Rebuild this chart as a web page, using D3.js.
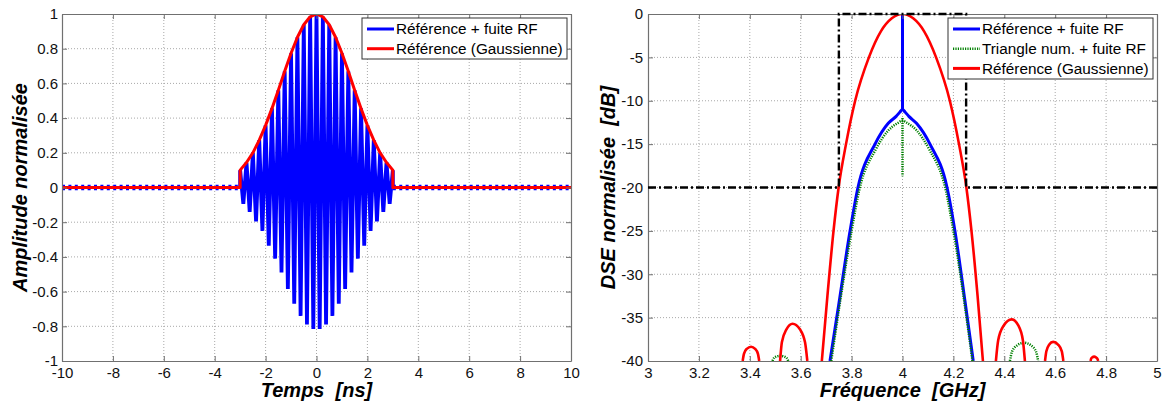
<!DOCTYPE html>
<html><head><meta charset="utf-8">
<script src="https://cdn.jsdelivr.net/npm/d3@7"></script>
<style>
body{margin:0;background:#fff;}
svg{display:block;font-family:"Liberation Sans",Arial,sans-serif;}
</style></head>
<body><svg id="c" width="1164" height="405"></svg>
<script>
// ---------- DATA: left panel (time domain) ----------
const timeTicks = [-10,-8,-6,-4,-2,0,2,4,6,8,10];
const ampTicks = [-1,-0.8,-0.6,-0.4,-0.2,0,0.2,0.4,0.6,0.8,1];
const ampTickLabels = ["-1","-0.8","-0.6","-0.4","-0.2","0","0.2","0.4","0.6","0.8","1"];
// Gaussian envelope (red) and carrier crest times (ns)
const envTime = [-3,-2.75,-2.5,-2.25,-2,-1.75,-1.5,-1.25,-1,-0.75,-0.5,-0.25,0,0.25,0.5,0.75,1,1.25,1.5,1.75,2,2.25,2.5,2.75,3];
const envAmp  = [0.10,0.144,0.20,0.273,0.358,0.456,0.561,0.670,0.774,0.866,0.938,0.984,1.0,0.984,0.938,0.866,0.774,0.670,0.561,0.456,0.358,0.273,0.20,0.144,0.10];
// carrier troughs (blue)
const troughTime = [-2.875,-2.625,-2.375,-2.125,-1.875,-1.625,-1.375,-1.125,-0.875,-0.625,-0.375,-0.125,0.125,0.375,0.625,0.875,1.125,1.375,1.625,1.875,2.125,2.375,2.625,2.875];
const troughAmp  = [-0.094,-0.14,-0.195,-0.25,-0.335,-0.41,-0.49,-0.585,-0.67,-0.74,-0.79,-0.815,-0.815,-0.79,-0.74,-0.67,-0.585,-0.49,-0.41,-0.335,-0.25,-0.195,-0.14,-0.094];
const pulseStart = -3, pulseEnd = 3, tMin = -10, tMax = 10;

// ---------- DATA: right panel (spectrum) ----------
const freqTicks = [3,3.2,3.4,3.6,3.8,4,4.2,4.4,4.6,4.8,5];
const freqTickLabels = ["3","3.2","3.4","3.6","3.8","4","4.2","4.4","4.6","4.8","5"];
const dbTicks = [-40,-35,-30,-25,-20,-15,-10,-5,0];
// Red: reference Gaussian spectrum (null = gap below -40 dB)
const redFreq = [3.372,3.377,3.388,3.405,3.421,3.432,3.437,null,
  3.519,3.526,3.544,3.568,3.597,3.617,3.626,null,
  3.683,3.705,3.729,3.749,3.778,3.814,3.868,3.915,3.958,4.0,4.042,4.085,4.132,4.186,4.222,4.251,4.271,4.295,4.316,null,
  4.367,4.376,4.398,4.429,4.455,4.473,4.481,null,
  4.56,4.565,4.576,4.592,4.612,4.626,4.632,null,
  4.739,4.741,4.746,4.753,4.76,4.766,4.769];
const redDb = [-40,-39.18,-38.6,-38.35,-38.6,-39.18,-40,null,
  -40,-37.85,-36.35,-35.7,-36.35,-37.85,-40,null,
  -40,-32.5,-25,-20,-15,-10,-5,-2,-0.5,0,-0.5,-2,-5,-10,-15,-20,-25,-32.5,-40,null,
  -40,-37.6,-35.9,-35.2,-35.9,-37.6,-40,null,
  -40,-38.9,-38.13,-37.8,-38.13,-38.9,-40,null,
  -40,-39.75,-39.58,-39.5,-39.58,-39.75,-40];
// Blue: reference + RF leakage
const blueFreq = [3.715,3.75,3.794,3.825,3.892,3.944,3.975,3.99,4.0,4.01,4.025,4.055,4.108,4.175,4.206,4.245,4.278];
const blueDb   = [-40,-33.4,-25,-20,-15,-12.6,-11.8,-11.3,-11.0,-11.3,-11.8,-12.6,-15,-20,-25,-33,-40];
const blueLineFreq = 4.0, blueLineDb = [-11, 0];
// Green: numerical triangle + RF leakage
const greenFreq = [3.489,3.494,3.504,3.519,3.535,3.546,3.551,null,
  3.72,3.8,3.83,3.895,3.945,3.98,4.0,4.02,4.055,4.105,4.17,4.2,4.275,null,
  4.422,4.430,4.450,4.477,4.505,4.525,4.533];
const greenDb = [-40,-39.7,-39.49,-39.4,-39.49,-39.7,-40,null,
  -40,-25,-20.3,-15.6,-13.4,-12.6,-12.3,-12.6,-13.4,-15.6,-20.3,-25,-40,null,
  -40,-38.95,-38.2,-37.9,-38.2,-38.95,-40];
const greenLineFreq = 4.0, greenLineDb = [-12, -18.7];
// Black dash-dot spectral mask
const maskFreq = [3,3.75,3.75,4.25,4.25,5];
const maskDb = [-20,-20,0,0,-20,-20];

const legendLeft = ["Référence + fuite RF","Référence (Gaussienne)"];
const legendRight = ["Référence + fuite RF","Triangle num. + fuite RF","Référence (Gaussienne)"];

// ---------- DRAW ----------
const svg = d3.select("#c");
const BLUE="#0000ff", RED="#ff0000", GREEN="#008000";

function panel(id, x, y, xt, xtl, yt, ytl, ypad) {
  const g = svg.append("g");
  const [x0,x1] = x.range(), [y1,y0] = y.range();
  g.append("rect").attr("x",x0).attr("y",y0).attr("width",x1-x0).attr("height",y1-y0).attr("fill","#fff");
  g.append("g").selectAll("line").data(xt.slice(1,-1)).join("line")
    .attr("x1",d=>x(d)).attr("x2",d=>x(d)).attr("y1",y0).attr("y2",y1)
    .attr("stroke","#a8a8a8").attr("stroke-width",1).attr("stroke-dasharray","1,2");
  g.append("g").selectAll("line").data(yt.slice(1,-1)).join("line")
    .attr("y1",d=>y(d)).attr("y2",d=>y(d)).attr("x1",x0).attr("x2",x1)
    .attr("stroke","#a8a8a8").attr("stroke-width",1).attr("stroke-dasharray","1,2");
  svg.append("clipPath").attr("id",id).append("rect").attr("x",x0).attr("y",y0).attr("width",x1-x0).attr("height",y1-y0);
  const plot = svg.append("g").attr("clip-path",`url(#${id})`);
  const axes = () => {
    const fmtX = (d,i)=>xtl[i], fmtY=(d,i)=>ytl[i];
    const ax = svg.append("g").attr("transform",`translate(0,${y1})`)
      .call(d3.axisBottom(x).tickValues(xt).tickFormat(fmtX).tickSizeInner(-5).tickSizeOuter(0).tickPadding(6));
    const ay = svg.append("g").attr("transform",`translate(${x0},0)`)
      .call(d3.axisLeft(y).tickValues(yt).tickFormat(fmtY).tickSizeInner(-5).tickSizeOuter(0).tickPadding(ypad));
    const at = svg.append("g").attr("transform",`translate(0,${y0})`)
      .call(d3.axisTop(x).tickValues(xt).tickFormat("").tickSizeInner(-5).tickSizeOuter(0));
    const ar = svg.append("g").attr("transform",`translate(${x1},0)`)
      .call(d3.axisRight(y).tickValues(yt).tickFormat("").tickSizeInner(-5).tickSizeOuter(0));
    [ax,ay,at,ar].forEach(a=>{
      a.select(".domain").attr("stroke","#707070").attr("stroke-width",1.2);
      a.selectAll(".tick line").attr("stroke","#707070").attr("stroke-width",1);
      a.selectAll("text").attr("font-size",15).attr("fill","#111").attr("font-family","Liberation Sans, Arial, sans-serif");
    });
  };
  return {plot, axes};
}

// Left panel
const xL = d3.scaleLinear([tMin,tMax],[62,571]);
const yL = d3.scaleLinear([-1,1],[361,14]);
const L = panel("clipL", xL, yL, timeTicks, timeTicks.map(String), ampTicks, ampTickLabels, 4);

[[tMin,pulseStart],[pulseEnd,tMax]].forEach(([a,b])=>{
  L.plot.append("line").attr("x1",xL(a)).attr("x2",xL(b)).attr("y1",yL(0)).attr("y2",yL(0))
    .attr("stroke",BLUE).attr("stroke-width",5.5).attr("stroke-dasharray","3,3.4");
});
const bluePts = [];
envTime.forEach((t,i)=>bluePts.push([t,envAmp[i]]));
troughTime.forEach((t,i)=>bluePts.push([t,troughAmp[i]]));
bluePts.sort((a,b)=>a[0]-b[0]);
bluePts.unshift([pulseStart,0]); bluePts.push([pulseEnd,0]);
L.plot.append("path").attr("d",d3.line().x(d=>xL(d[0])).y(d=>yL(d[1]))(bluePts))
  .attr("fill","none").attr("stroke",BLUE).attr("stroke-width",3.8).attr("stroke-linejoin","bevel");
const redPts = [[tMin,0],[pulseStart,0]].concat(envTime.map((t,i)=>[t,envAmp[i]])).concat([[pulseEnd,0],[tMax,0]]);
L.plot.append("path").attr("d",d3.line().x(d=>xL(d[0])).y(d=>yL(d[1]))(redPts))
  .attr("fill","none").attr("stroke",RED).attr("stroke-width",3).attr("stroke-linejoin","round");
L.axes();

// Right panel
const xR = d3.scaleLinear([3,5],[648,1157]);
const yR = d3.scaleLinear([-40,0],[361,14]);
const R = panel("clipR", xR, yR, freqTicks, freqTickLabels, dbTicks, dbTicks.map(String), 5);
const specLine = d3.line().defined(d=>d[1]!==null).x(d=>xR(d[0])).y(d=>yR(d[1])).curve(d3.curveMonotoneX);
const zipS = (f,v)=>f.map((d,i)=>[d,v[i]]);
R.plot.append("path").attr("d",specLine(zipS(blueFreq,blueDb)))
  .attr("fill","none").attr("stroke",BLUE).attr("stroke-width",3);
R.plot.append("line").attr("x1",xR(blueLineFreq)).attr("x2",xR(blueLineFreq))
  .attr("y1",yR(blueLineDb[0])).attr("y2",yR(blueLineDb[1])).attr("stroke",BLUE).attr("stroke-width",3);
R.plot.append("path").attr("d",specLine(zipS(greenFreq,greenDb)))
  .attr("fill","none").attr("stroke",GREEN).attr("stroke-width",2.5).attr("stroke-dasharray","1.2,1.2");
R.plot.append("line").attr("x1",xR(greenLineFreq)).attr("x2",xR(greenLineFreq))
  .attr("y1",yR(greenLineDb[0])).attr("y2",yR(greenLineDb[1])).attr("stroke",GREEN).attr("stroke-width",2.5).attr("stroke-dasharray","1.2,1.2");
R.plot.append("path").attr("d",specLine(zipS(redFreq,redDb)))
  .attr("fill","none").attr("stroke",RED).attr("stroke-width",2.6);
R.axes();
svg.append("path").attr("d",d3.line().x(d=>xR(d[0])).y(d=>yR(d[1]))(zipS(maskFreq,maskDb)))
  .attr("fill","none").attr("stroke","#000").attr("stroke-width",2.4).attr("stroke-dasharray","8,3,2,3");

// Axis titles
function title(txt,x,y,rot){
  svg.append("text").attr("text-anchor","middle").attr("xml:space","preserve")
    .style("white-space","pre").text(txt)
    .attr("transform",`translate(${x},${y})${rot?" rotate(-90)":""}`)
    .attr("font-size",20).attr("font-weight","bold").attr("font-style","italic").attr("fill","#000");
}
title("Temps  [ns]", xL(0), 397, false);
title("Fréquence  [GHz]", xR(4), 397, false);
title("Amplitude normalisée", 27, yL(0), true);
title("DSE normalisée  [dB]", 615, yR(-20), true);

// Legends
function legend(x,y,w,items,styles){
  const h = 20*items.length+1;
  const g = svg.append("g");
  g.append("rect").attr("x",x).attr("y",y).attr("width",w).attr("height",h)
    .attr("fill","#fff").attr("stroke","#333").attr("stroke-width",1);
  items.forEach((txt,i)=>{
    const cy = y+11+i*19.7;
    const l = g.append("line").attr("x1",x+5).attr("x2",x+32).attr("y1",cy).attr("y2",cy);
    Object.entries(styles[i]).forEach(([k,v])=>l.attr(k,v));
    g.append("text").attr("x",x+34).attr("y",cy+5.3).attr("font-size",15.3).attr("fill","#000").text(txt);
  });
}
legend(362,18,205,legendLeft,[
  {stroke:BLUE,"stroke-width":3},{stroke:RED,"stroke-width":3}]);
legend(948,18,205,legendRight,[
  {stroke:BLUE,"stroke-width":3},{stroke:GREEN,"stroke-width":2.5,"stroke-dasharray":"1.2,1.2"},{stroke:RED,"stroke-width":3}]);
</script></body></html>
